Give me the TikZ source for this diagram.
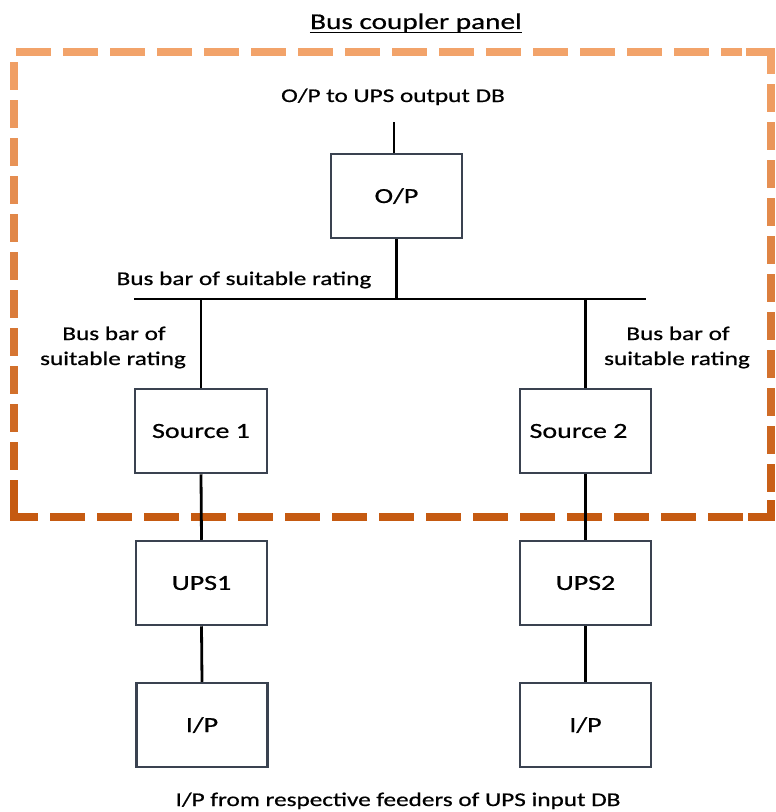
\documentclass[tikz,border=0pt]{standalone}
\usepackage{fontspec}
\setmainfont[FakeStretch=1.3,FakeBold=0.7]{Carlito}
\definecolor{otop}{RGB}{242,163,106}
\definecolor{obot}{RGB}{197,90,17}
\definecolor{boxc}{RGB}{58,66,80}
\begin{document}
\begin{tikzpicture}[x=1pt,y=-1pt,
  box/.style={draw=boxc, fill=white, line width=2.5pt, minimum width=131pt, minimum height=84pt, inner sep=0pt, font=\fontsize{21.5}{24}\selectfont},
  lbl/.style={inner sep=0pt, anchor=base, font=\fontsize{19.4}{25}\selectfont},
  wire/.style={line width=2.8pt, black},
  bord/.style={line width=8.5pt}]
\useasboundingbox (0,0) rectangle (776,812);
\fill[white] (0,0) rectangle (776,812);

% dashed panel border with vertical colour gradient
\draw[bord, otop, dash pattern=on 35pt off 12pt] (16,52) -- (742,52);
\draw[bord, otop] (746,52) -- (771,52) -- (771,74);
\foreach \i in {0,...,10}{
  \pgfmathsetmacro{\ya}{62+38*\i}
  \pgfmathsetmacro{\yb}{\ya+28}
  \pgfmathsetmacro{\p}{(503-\ya)/4.65}
  \draw[bord, color=otop!\p!obot] (14,\ya) -- (14,\yb);
}
\foreach \i in {0,...,10}{
  \pgfmathsetmacro{\ya}{84+38*\i}
  \pgfmathsetmacro{\yb}{\ya+28}
  \pgfmathsetmacro{\p}{(503-\ya)/4.65}
  \draw[bord, color=otop!\p!obot] (771,\ya) -- (771,\yb);
}
\draw[bord, obot] (14,480) -- (14,517) -- (38,517);
\draw[bord, obot, dash pattern=on 35pt off 12pt] (50,517) -- (744,517);
\draw[bord, obot] (748,517) -- (771,517) -- (771,500);

% title
\node[lbl, font=\fontsize{22.5}{26}\selectfont] (title) at (416,29) {Bus coupler panel};
\draw[line width=1.3pt] ([yshift=-3.5pt]title.base west) -- ([yshift=-3.5pt]title.base east);

% labels
\node[lbl] (optxt) at (393,102) {O/P to UPS output DB};
\node[lbl] (bustxt) at (244,285) {Bus bar of suitable rating};
\node[lbl] (l1a) at (114,340) {Bus bar of};
\node[lbl] (l1b) at (113,365) {suitable rating};
\node[lbl] (l2a) at (678,340) {Bus bar of};
\node[lbl] (l2b) at (677,365) {suitable rating};
\node[lbl] (iptxt) at (398,806) {I/P from respective feeders of UPS input DB};

% boxes
\node[box] (op) at (396.5,196) {O/P};
\node[box, minimum width=132pt] (s1) at (201,431) {Source 1};
\node[box] (s2) at (585.5,431) {\hspace*{-14pt}Source 2};
\node[box] (u1) at (201.5,583) {UPS1};
\node[box] (u2) at (585.5,583) {UPS2};
\node[box] (i1) at (202,725) {I/P};
\node[box] (i2) at (585.5,725) {I/P};

% wires
\coordinate (optop) at (394,122);
\coordinate (busL) at (134,299);
\coordinate (busR) at (646,299);
\draw[wire] (optop) -- (optop |- op.north);
\draw[wire] (busL) -- (busR);
\draw[wire] (op.south) -- (op.south |- busL);
\draw[wire] (s1.north |- busL) -- (s1.north);
\draw[wire] (s2.north |- busL) -- (s2.north);
\draw[wire] (s1.south) -- (u1.north);
\draw[wire] (s2.south) -- (u2.north);
\draw[wire] (u1.south) -- (i1.north);
\draw[wire] (u2.south) -- (i2.north);
\end{tikzpicture}
\end{document}
